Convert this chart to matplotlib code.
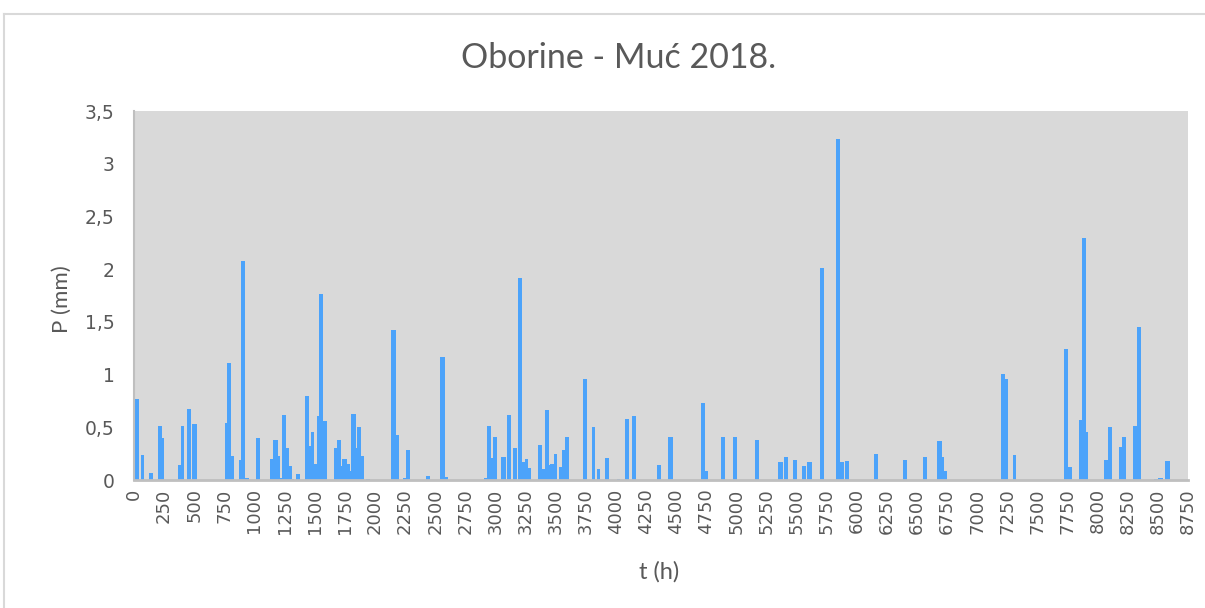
import matplotlib
matplotlib.use("Agg")
import matplotlib.pyplot as plt
from matplotlib.ticker import FuncFormatter, MultipleLocator

# ---- data: rain intervals (start hour, end hour) and precipitation (mm)
t_start = [8, 56, 125, 199, 232, 365, 390, 440, 482, 755, 775, 803, 869, 888, 921,
           1013, 1129, 1151, 1193, 1212, 1226, 1264, 1287, 1309, 1347, 1422, 1453,
           1467, 1494, 1519, 1538, 1569, 1663, 1685, 1716, 1729, 1768, 1790, 1801,
           1843, 1851, 1882, 1926, 2134, 2175, 2236, 2258, 2424, 2540, 2585, 2908,
           2928, 2961, 2983, 3044, 3097, 3149, 3190, 3224, 3246, 3274, 3357, 3390,
           3412, 3443, 3457, 3485, 3531, 3556, 3578, 3725, 3800, 3841, 3913, 4007,
           4079, 4134, 4345, 4436, 4707, 4740, 4876, 4970, 5158, 5349, 5399, 5471,
           5546, 5587, 5693, 5828, 5861, 5903, 6141, 6381, 6550, 6667, 6708, 6727,
           7200, 7231, 7295, 7721, 7754, 7845, 7870, 7901, 8056, 8089, 8180, 8202,
           8296, 8329, 8466, 8499, 8560]
t_end = [42, 83, 158, 232, 249, 390, 418, 473, 523, 775, 803, 828, 888, 921, 952,
         1046, 1151, 1193, 1212, 1226, 1264, 1287, 1309, 1328, 1380, 1453, 1467,
         1494, 1519, 1538, 1569, 1600, 1685, 1716, 1729, 1768, 1790, 1801, 1843,
         1851, 1882, 1907, 1959, 2175, 2198, 2258, 2291, 2457, 2585, 2607, 2928,
         2961, 2983, 3014, 3086, 3127, 3180, 3224, 3246, 3274, 3296, 3390, 3412,
         3443, 3457, 3485, 3514, 3556, 3578, 3611, 3758, 3830, 3871, 3946, 4037,
         4112, 4165, 4375, 4478, 4740, 4763, 4909, 5003, 5191, 5388, 5432, 5504,
         5577, 5631, 5726, 5861, 5892, 5934, 6174, 6414, 6584, 6708, 6727, 6749,
         7231, 7253, 7325, 7754, 7785, 7870, 7901, 7923, 8089, 8119, 8202, 8236,
         8329, 8360, 8499, 8545, 8601]
P_mm = [0.77, 0.24, 0.07, 0.51, 0.40, 0.14, 0.51, 0.67, 0.53, 0.54, 1.11, 0.23, 0.19,
        2.08, 0.02, 0.40, 0.20, 0.38, 0.23, 0.02, 0.62, 0.30, 0.13, 0.01, 0.06, 0.80,
        0.32, 0.46, 0.15, 0.61, 1.76, 0.56, 0.30, 0.38, 0.13, 0.20, 0.15, 0.09, 0.63,
        0.30, 0.50, 0.23, 0.01, 1.42, 0.43, 0.02, 0.28, 0.04, 1.17, 0.03, 0.02, 0.51,
        0.21, 0.41, 0.22, 0.62, 0.30, 1.92, 0.17, 0.20, 0.11, 0.33, 0.10, 0.66, 0.14,
        0.15, 0.25, 0.12, 0.28, 0.41, 0.96, 0.50, 0.10, 0.21, 0.01, 0.58, 0.61, 0.14,
        0.41, 0.73, 0.09, 0.41, 0.41, 0.38, 0.17, 0.22, 0.19, 0.13, 0.17, 2.01, 3.23,
        0.17, 0.18, 0.25, 0.19, 0.22, 0.37, 0.22, 0.09, 1.01, 0.96, 0.24, 1.24, 0.12,
        0.57, 2.30, 0.46, 0.19, 0.50, 0.31, 0.41, 0.51, 1.45, 0.01, 0.02, 0.18]

x_ticks = list(range(0, 8751, 250))
title = "Oborine - Muć 2018."
xlabel = "t (h)"
ylabel = "P (mm)"

W, H = 1205, 608
fig = plt.figure(figsize=(W / 100, H / 100), dpi=100)
fig.patch.set_facecolor("white")

# chart border (top and left edges visible)
fig.add_artist(plt.Line2D([4 / W, 1], [1 - 14 / H, 1 - 14 / H], color="#d9d9d9", lw=1.5))
fig.add_artist(plt.Line2D([4 / W, 4 / W], [0, 1 - 14 / H], color="#d9d9d9", lw=1.5))

left, right, top, bottom = 134, 1188, 111, 480
ax = fig.add_axes([left / W, 1 - bottom / H, (right - left) / W, (bottom - top) / H])
ax.set_facecolor("#d9d9d9")

widths = [e - s for s, e in zip(t_start, t_end)]
ax.bar(t_start, P_mm, width=widths, align="edge", color="#4ca3fa", edgecolor="none")

ax.set_xlim(0, 8750)
ax.set_ylim(0, 3.5)
ax.set_xticks(x_ticks)
ax.set_xticklabels([str(v) for v in x_ticks], rotation=90, fontsize=13,
                   color="#595959", family="DejaVu Sans")
ax.yaxis.set_major_locator(MultipleLocator(0.5))
ax.yaxis.set_major_formatter(FuncFormatter(lambda v, p: ("%g" % v).replace(".", ",")))
ax.tick_params(axis="y", length=0, pad=14, labelsize=13.5, labelcolor="#595959")
ax.tick_params(axis="x", length=0, pad=6, labelcolor="#595959")

for s in ["top", "right"]:
    ax.spines[s].set_visible(False)
ax.spines["bottom"].set_color("#bfbfbf")
ax.spines["bottom"].set_linewidth(2)
ax.spines["left"].set_color("#bfbfbf")
ax.spines["left"].set_linewidth(1.5)

fig.text(619 / W, 1 - 58 / H, title, ha="center", va="center", fontsize=24.5,
         color="#595959", family="Lato")
fig.text(62 / W, 1 - 299 / H, ylabel, ha="center", va="center", rotation=90,
         fontsize=16, color="#595959", family="Lato")
fig.text(659 / W, 1 - 572 / H, xlabel, ha="center", va="center", fontsize=17,
         color="#595959", family="Lato")

fig.savefig("out.png", dpi=100)
